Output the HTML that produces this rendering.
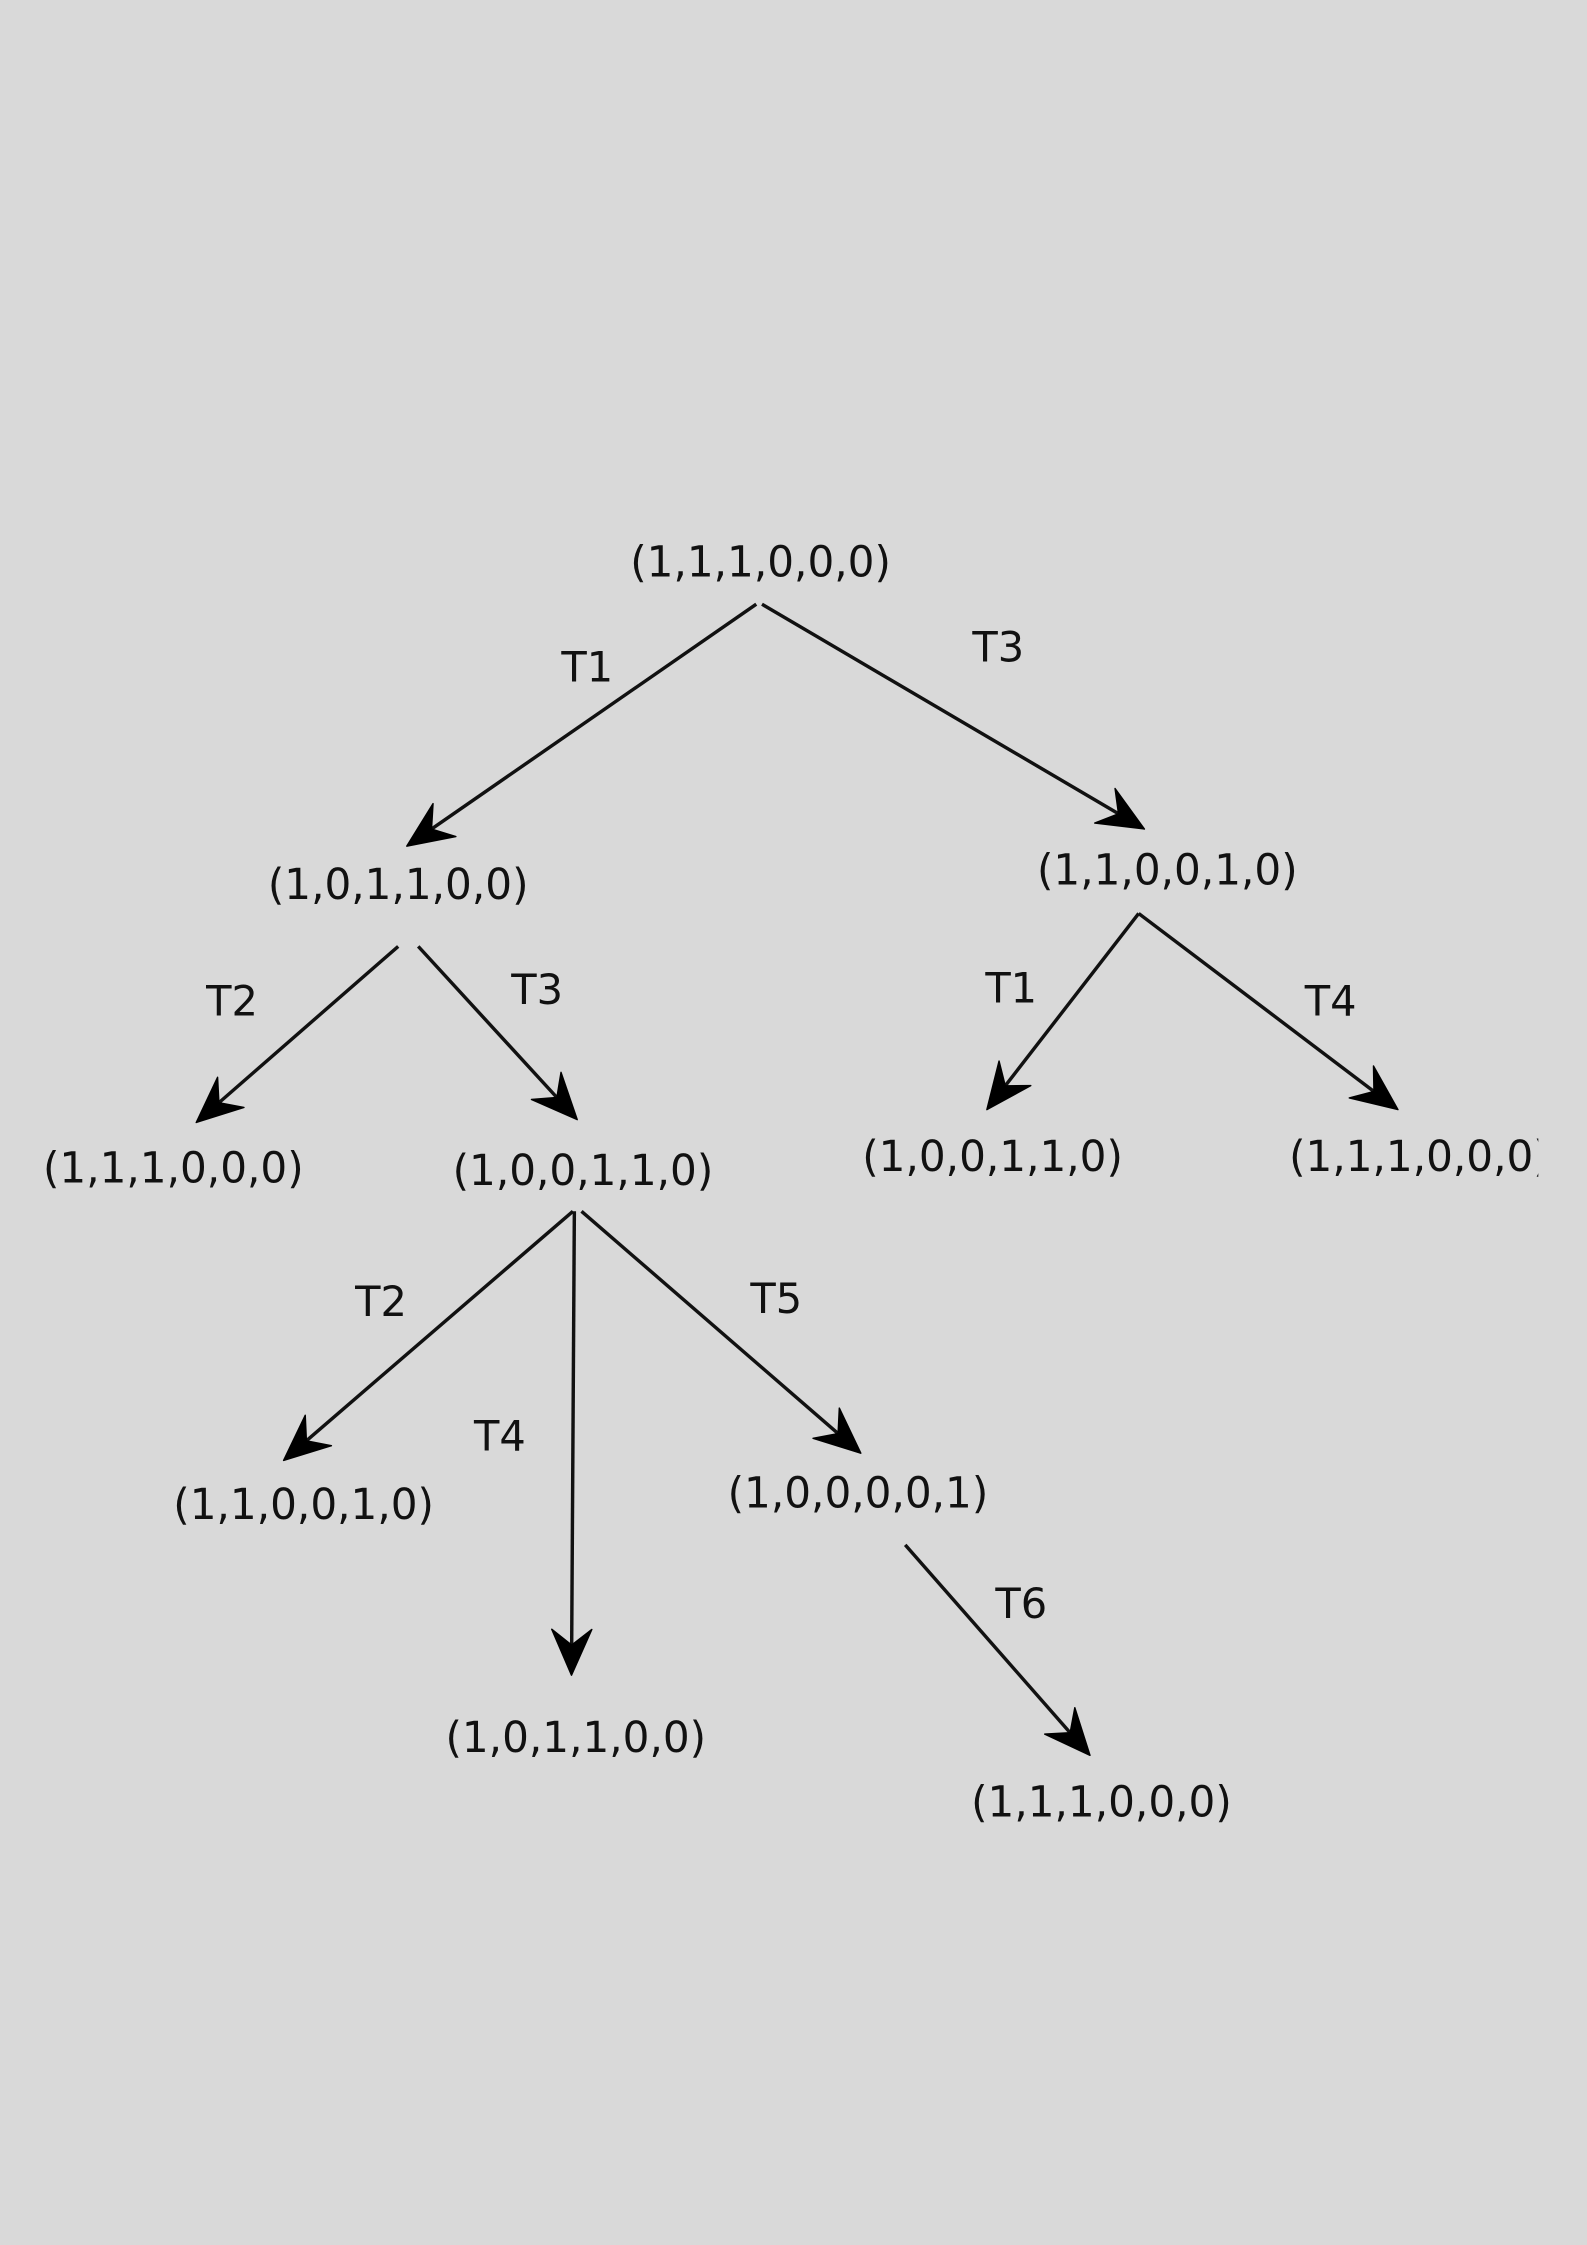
<!DOCTYPE html>
<html><head><meta charset="utf-8"><style>
html,body{margin:0;padding:0;background:#d9d9d9;}
svg{display:block;}
text{font-family:"DejaVu Sans","Liberation Sans",sans-serif;fill:#111;}
</style></head><body>
<svg id="chart" width="1587" height="2245" viewBox="0 0 1108 1568" preserveAspectRatio="none" xmlns="http://www.w3.org/2000/svg">
<defs><clipPath id="clipR"><rect x="0" y="0" width="1074" height="1568"/></clipPath></defs>
<rect width="1108" height="1568" fill="#d9d9d9"/>
</svg>
<script>
const nodeLabels = ["(1,1,1,0,0,0)","(1,0,1,1,0,0)","(1,1,0,0,1,0)","(1,1,1,0,0,0)","(1,0,0,1,1,0)","(1,0,0,1,1,0)","(1,1,1,0,0,0)","(1,1,0,0,1,0)","(1,0,0,0,0,1)","(1,0,1,1,0,0)","(1,1,1,0,0,0)"];
const nodeX = [531,278,815,121,407,693,991,212,599,402,769];
const nodeY = [393,618,608,816,818,808,808,1051,1043,1214,1259];
const edgeFrom = [[528,422],[532,422],[278,661],[292,661],[795,638],[795,638],[400,846],[401,846],[406,846],[632,1079]];
const edgeTo = [[284,591],[799,579],[137,784],[403,782],[689,775],[976,775],[198,1020],[399,1170],[601,1015],[761,1226]];
const edgeLabels = ["T1","T3","T2","T3","T1","T4","T2","T4","T5","T6"];
const edgeLabelX = [410,697,162,375,706,929,266,349,542,713];
const edgeLabelY = [466,452,699,691,690,699,909,1003,907,1120];

const svg = document.getElementById('chart');
const NS = 'http://www.w3.org/2000/svg';
function mk(t, a){const e=document.createElementNS(NS,t);for(const k in a)e.setAttribute(k,a[k]);svg.appendChild(e);return e;}

edgeFrom.forEach((f,i)=>{
  const t = edgeTo[i];
  const dx=t[0]-f[0], dy=t[1]-f[1], L=Math.hypot(dx,dy), ux=dx/L, uy=dy/L, px=-uy, py=ux;
  const len=32, w=14, notch=21;
  const bx=t[0]-ux*len, by=t[1]-uy*len;
  const nx=t[0]-ux*notch, ny=t[1]-uy*notch;
  const line = mk('line',{x1:f[0],y1:f[1],x2:nx,y2:ny,stroke:'#111','stroke-width':2.4});
  
  
  const head = mk('polygon',{points:`${t[0]},${t[1]} ${bx+px*w},${by+py*w} ${nx},${ny} ${bx-px*w},${by-py*w}`,fill:'#000','stroke':'#000','stroke-width':1,'stroke-linejoin':'round'});
  
  
  const lb = mk('text',{x:edgeLabelX[i],y:edgeLabelY[i],'font-size':29,'text-anchor':'middle','dominant-baseline':'central'});
  lb.textContent = edgeLabels[i];
  
  
});

nodeLabels.forEach((s,i)=>{
  const a = {x:nodeX[i]-91,y:nodeY[i],'font-size':30,'dominant-baseline':'central',textLength:182,lengthAdjust:'spacingAndGlyphs'};
  if(i===6) a['clip-path']='url(#clipR)';
  const t = mk('text',a);
  t.textContent = s;
  
  
});
</script>
</body></html>
